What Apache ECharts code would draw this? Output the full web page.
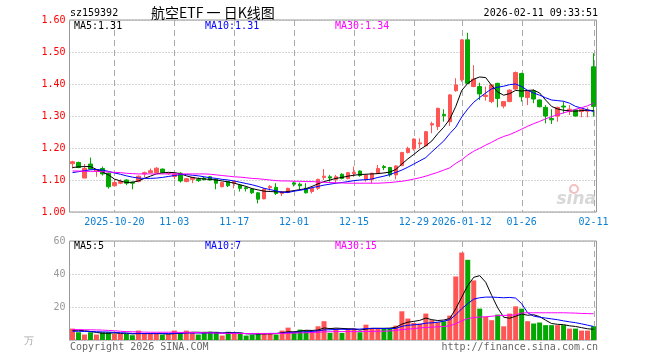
<!DOCTYPE html>
<html><head><meta charset="utf-8">
<script src="https://cdn.jsdelivr.net/npm/echarts@6/dist/echarts.min.js"></script>
<style>html,body{margin:0;padding:0;background:#fff}#c{width:660px;height:360px}</style>
</head><body><div id="c"></div>
<script>
const dates = ['2025-10-09','2025-10-10','2025-10-13','2025-10-14','2025-10-15','2025-10-16','2025-10-17','2025-10-20','2025-10-21','2025-10-22','2025-10-23','2025-10-24','2025-10-27','2025-10-28','2025-10-29','2025-10-30','2025-10-31',
'2025-11-03','2025-11-04','2025-11-05','2025-11-06','2025-11-07','2025-11-10','2025-11-11','2025-11-12','2025-11-13','2025-11-14','2025-11-17','2025-11-18','2025-11-19','2025-11-20','2025-11-21','2025-11-24','2025-11-25','2025-11-26','2025-11-27','2025-11-28',
'2025-12-01','2025-12-02','2025-12-03','2025-12-04','2025-12-05','2025-12-08','2025-12-09','2025-12-10','2025-12-11','2025-12-12','2025-12-15','2025-12-16','2025-12-17','2025-12-18','2025-12-19','2025-12-22','2025-12-23','2025-12-24','2025-12-25','2025-12-26','2025-12-29','2025-12-30','2025-12-31',
'2026-01-05','2026-01-06','2026-01-07','2026-01-08','2026-01-09','2026-01-12','2026-01-13','2026-01-14','2026-01-15','2026-01-16','2026-01-19','2026-01-20','2026-01-21','2026-01-22','2026-01-23','2026-01-26','2026-01-27','2026-01-28','2026-01-29','2026-01-30',
'2026-02-02','2026-02-03','2026-02-04','2026-02-05','2026-02-06','2026-02-09','2026-02-10','2026-02-11'];

const opens = [1.151,1.155,1.106,1.150,1.128,1.136,1.121,1.082,1.090,1.100,1.093,1.095,1.119,1.123,1.123,1.134,1.120,
1.111,1.121,1.095,1.102,1.102,1.106,1.110,1.102,1.079,1.095,1.090,1.084,1.076,1.072,1.060,1.041,1.076,1.077,1.058,1.061,
1.091,1.087,1.074,1.064,1.074,1.108,1.110,1.102,1.118,1.105,1.120,1.128,1.102,1.102,1.121,1.142,1.139,1.116,1.145,1.186,1.197,1.213,1.207,
1.272,1.267,1.305,1.282,1.379,1.413,1.538,1.392,1.392,1.361,1.345,1.402,1.331,1.345,1.384,1.433,1.358,1.378,1.350,1.327,
1.292,1.300,1.331,1.314,1.319,1.314,1.315,1.454];
const closes = [1.157,1.139,1.136,1.134,1.132,1.119,1.079,1.092,1.095,1.090,1.090,1.112,1.123,1.129,1.137,1.123,1.121,
1.119,1.097,1.104,1.108,1.098,1.102,1.100,1.090,1.092,1.082,1.095,1.074,1.073,1.060,1.040,1.072,1.080,1.058,1.063,1.074,
1.087,1.082,1.060,1.074,1.102,1.112,1.106,1.110,1.105,1.123,1.124,1.114,1.116,1.121,1.136,1.139,1.116,1.144,1.186,1.199,1.228,1.216,1.251,
1.276,1.324,1.301,1.366,1.397,1.538,1.402,1.415,1.369,1.365,1.397,1.355,1.345,1.381,1.436,1.360,1.378,1.353,1.329,1.300,
1.288,1.327,1.328,1.321,1.300,1.321,1.319,1.330];
const lows = [1.136,1.137,1.106,1.132,1.110,1.114,1.073,1.079,1.087,1.084,1.071,1.093,1.108,1.121,1.121,1.121,1.116,
1.102,1.092,1.093,1.090,1.094,1.098,1.098,1.071,1.077,1.078,1.074,1.064,1.064,1.056,1.027,1.040,1.067,1.053,1.050,1.059,
1.080,1.070,1.058,1.058,1.069,1.100,1.095,1.090,1.102,1.102,1.110,1.110,1.095,1.090,1.119,1.131,1.110,1.102,1.143,1.183,1.192,1.199,1.205,
1.246,1.256,1.282,1.269,1.376,1.407,1.400,1.390,1.350,1.348,1.340,1.327,1.324,1.343,1.382,1.345,1.334,1.340,1.327,1.277,
1.275,1.282,1.308,1.303,1.298,1.296,1.296,1.298];
const highs = [1.160,1.157,1.150,1.170,1.134,1.142,1.123,1.102,1.102,1.102,1.095,1.114,1.126,1.136,1.140,1.136,1.124,
1.121,1.124,1.106,1.110,1.108,1.110,1.112,1.104,1.094,1.097,1.097,1.086,1.079,1.074,1.062,1.074,1.084,1.090,1.065,1.076,
1.095,1.092,1.090,1.076,1.104,1.134,1.116,1.116,1.121,1.125,1.142,1.130,1.118,1.123,1.147,1.147,1.141,1.146,1.188,1.204,1.230,1.230,1.253,
1.282,1.326,1.321,1.368,1.418,1.540,1.560,1.459,1.404,1.392,1.399,1.404,1.347,1.383,1.439,1.435,1.380,1.383,1.352,1.334,
1.321,1.329,1.345,1.334,1.321,1.323,1.327,1.496];

const volumes = [6.9,4.7,3.3,4.7,3.3,4.7,4.7,3.7,3.7,3.7,2.9,5.7,3.7,3.7,3.7,3.3,3.3,
5.7,4.3,5.7,4.3,3.3,5.0,5.0,5.0,2.7,5.0,4.3,4.3,2.7,3.1,4.3,4.3,4.3,3.3,5.7,7.5,
4.3,6.3,5.7,5.0,8.3,11.4,4.3,6.9,4.3,6.9,6.9,4.7,9.3,6.9,6.9,6.9,6.9,8.7,17.4,13.0,10.3,10.0,16.0,
12.0,10.8,11.4,14.8,38.5,53.0,48.6,36.1,19.0,14.0,12.0,15.4,8.3,16.0,20.4,19.0,11.4,10.0,10.6,9.0,
9.0,9.0,9.0,6.9,6.9,5.7,5.7,8.3];

const ma5 = [1.139,1.141,1.142,1.142,1.133,1.125,1.116,1.103,1.097,1.092,1.093,1.097,1.105,1.112,1.119,1.122,1.124,
1.123,1.120,1.113,1.108,1.105,1.103,1.102,1.100,1.097,1.094,1.090,1.085,1.080,1.073,1.069,1.065,1.064,1.063,1.062,1.064,
1.067,1.070,1.073,1.080,1.088,1.095,1.100,1.105,1.108,1.112,1.115,1.117,1.118,1.119,1.120,1.122,1.125,1.133,1.150,1.166,1.180,1.195,1.207,
1.222,1.245,1.265,1.290,1.330,1.380,1.402,1.415,1.422,1.420,1.395,1.375,1.365,1.370,1.380,1.378,1.380,1.381,1.372,1.350,
1.330,1.322,1.318,1.316,1.315,1.317,1.318,1.317];
const ma10 = [1.123,1.126,1.129,1.132,1.133,1.131,1.127,1.122,1.118,1.113,1.109,1.106,1.105,1.105,1.106,1.108,1.111,
1.114,1.117,1.117,1.115,1.113,1.110,1.107,1.105,1.102,1.100,1.097,1.093,1.089,1.085,1.080,1.074,1.070,1.066,1.062,1.061,
1.065,1.068,1.071,1.076,1.080,1.084,1.087,1.090,1.092,1.095,1.098,1.100,1.101,1.103,1.108,1.112,1.117,1.124,1.131,1.140,1.150,1.160,1.170,
1.188,1.205,1.222,1.245,1.265,1.297,1.322,1.343,1.358,1.372,1.385,1.390,1.393,1.398,1.400,1.392,1.380,1.372,1.365,1.357,
1.350,1.348,1.346,1.340,1.330,1.325,1.319,1.314];
const ma30 = [1.128,1.128,1.127,1.127,1.127,1.126,1.125,1.124,1.123,1.121,1.120,1.119,1.119,1.119,1.119,1.119,1.119,
1.119,1.119,1.119,1.119,1.119,1.119,1.118,1.116,1.114,1.112,1.110,1.109,1.107,1.105,1.104,1.102,1.100,1.098,1.097,1.097,
1.096,1.096,1.095,1.095,1.094,1.093,1.092,1.091,1.091,1.090,1.090,1.090,1.090,1.090,1.090,1.091,1.092,1.094,1.096,1.099,1.103,1.107,1.112,
1.118,1.124,1.131,1.138,1.152,1.163,1.178,1.190,1.199,1.209,1.218,1.228,1.236,1.242,1.250,1.259,1.268,1.276,1.283,1.291,
1.298,1.304,1.310,1.315,1.321,1.326,1.332,1.340];

const vma5 = [5.9,5.9,5.6,5.2,4.6,4.1,4.1,4.3,4.0,4.1,3.7,3.9,3.9,3.9,3.9,3.9,3.5,
3.9,4.1,4.5,4.7,4.7,4.5,4.7,4.5,4.2,4.5,4.4,4.3,3.8,3.7,3.7,3.7,3.7,3.9,4.4,5.0,
5.0,5.4,5.9,5.8,6.0,7.3,6.9,7.2,7.0,6.8,6.7,6.0,6.6,7.0,7.1,7.1,7.2,7.7,9.6,10.8,11.3,11.9,13.3,
12.3,11.8,12.1,13.0,19.0,26.0,33.0,38.0,39.0,35.0,27.0,19.5,13.8,13.2,14.4,15.8,15.0,15.3,14.2,12.0,
10.0,9.5,9.3,8.6,8.2,7.5,6.8,6.5];
const vma10 = [5.3,5.3,5.2,5.1,5.0,4.9,4.8,4.6,4.4,4.2,4.0,4.0,3.9,3.9,3.9,3.9,3.9,
4.0,4.1,4.2,4.2,4.2,4.2,4.3,4.3,4.2,4.2,4.3,4.1,3.9,3.8,3.8,3.9,4.0,4.0,4.1,4.4,
4.6,4.8,5.0,5.2,5.5,6.1,6.2,6.4,6.5,6.4,6.6,6.6,6.9,7.1,7.0,6.9,6.9,7.0,8.3,8.9,9.2,9.5,10.2,
10.4,10.8,11.4,12.3,15.3,19.0,22.0,24.8,25.6,26.0,26.0,25.8,25.6,25.8,25.4,22.0,16.5,14.5,13.8,13.3,
12.8,12.3,11.6,11.0,10.5,9.8,9.0,8.2];
const vma30 = [6.3,6.3,6.2,6.2,6.1,6.0,5.8,5.6,5.3,5.1,5.0,4.9,4.8,4.7,4.7,4.7,4.7,
4.7,4.6,4.6,4.6,4.5,4.4,4.3,4.2,4.1,4.0,4.0,3.9,3.9,3.9,3.9,3.9,3.9,3.9,4.0,4.1,
4.2,4.3,4.4,4.5,4.7,4.9,5.0,5.1,5.1,5.1,5.1,5.1,5.2,5.2,5.3,5.3,5.5,5.8,6.3,6.6,6.9,7.3,7.6,
7.8,8.0,8.2,8.6,9.9,11.6,13.0,13.6,13.9,14.1,14.4,14.8,14.9,15.0,15.2,16.4,16.5,16.5,16.5,16.5,
16.5,16.5,16.5,16.4,16.3,16.1,16.0,15.9];

const tickDates = ['2025-10-20','2025-11-03','2025-11-17','2025-12-01','2025-12-15','2025-12-29','2026-01-12','2026-01-26','2026-02-11'];
const tickLabels = ['2025-10-20','11-03','11-17','12-01','12-15','12-29','2026-01-12','01-26','02-11'];

const UP = '#ff5555', DOWN = '#00a800';
const MONO = 'DejaVu Sans Mono';
const GRIDC = '#aaaaaa';

const candleData = dates.map((d, i) => [opens[i], closes[i], lows[i], highs[i]]);
const volData = volumes.map((v, i) => ({ value: v, itemStyle: { color: closes[i] >= opens[i] ? UP : DOWN } }));
const tickIdx = tickDates.map(d => [dates.indexOf(d), 0]);

function vLineSeries(ax) {
  return {
    type: 'custom', xAxisIndex: ax, yAxisIndex: ax, data: tickIdx, silent: true, z: 1, clip: false,
    encode: { x: 0, y: 1 },
    renderItem: (params, api) => {
      const cs = params.coordSys;
      const x = Math.round(api.coord([api.value(0), api.value(1)])[0]) + 0.5;
      return { type: 'line', shape: { x1: x, y1: cs.y, x2: x, y2: cs.y + cs.height },
        style: { stroke: GRIDC, lineWidth: 1, lineDash: [6, 4] } };
    }
  };
}

const chart = echarts.init(document.getElementById('c'), null, { renderer: 'canvas' });
const txt = (x, y, s, fill, extra) => ({
  type: 'text', x, y, silent: true, z: 100,
  style: Object.assign({ text: s, fill, font: '10px "' + MONO + '"', textVerticalAlign: 'middle' }, extra || {})
});
chart.setOption({
  animation: false,
  backgroundColor: '#ffffff',
  grid: [
    { left: 69.5, width: 527, top: 20, height: 192, show: true, borderColor: '#999', borderWidth: 1, backgroundColor: 'transparent' },
    { left: 69.5, width: 527, top: 241, height: 99, show: true, borderColor: '#999', borderWidth: 1, backgroundColor: 'transparent' }
  ],
  xAxis: [
    { type: 'category', gridIndex: 0, data: dates, boundaryGap: true,
      axisLine: { show: false }, axisTick: { show: false }, splitLine: { show: false },
      axisLabel: { show: true, interval: (i, v) => tickDates.indexOf(v) >= 0, margin: 5,
        formatter: v => tickLabels[tickDates.indexOf(v)], color: '#0a7fd4', fontFamily: MONO, fontSize: 10, hideOverlap: false } },
    { type: 'category', gridIndex: 1, data: dates, boundaryGap: true,
      axisLine: { show: false }, axisTick: { show: false }, splitLine: { show: false }, axisLabel: { show: false } }
  ],
  yAxis: [
    { type: 'value', gridIndex: 0, min: 1.0, max: 1.6, interval: 0.1,
      axisLine: { show: false }, axisTick: { show: false },
      axisLabel: { color: '#ff0000', fontFamily: MONO, fontSize: 10, margin: 4, formatter: v => v.toFixed(2) },
      splitLine: { show: true, lineStyle: { color: GRIDC, type: [1, 2], width: 1 } } },
    { type: 'value', gridIndex: 1, min: 0, max: 60, interval: 20,
      axisLine: { show: false }, axisTick: { show: false },
      axisLabel: { color: '#999999', fontFamily: MONO, fontSize: 10, margin: 4, formatter: v => v === 0 ? '' : String(v) },
      splitLine: { show: true, lineStyle: { color: GRIDC, type: [1, 2], width: 1 } } }
  ],
  series: [
    vLineSeries(0),
    vLineSeries(1),
    { type: 'candlestick', xAxisIndex: 0, yAxisIndex: 0, data: candleData, barWidth: 4,
      itemStyle: { color: UP, color0: DOWN, borderColor: UP, borderColor0: DOWN, borderWidth: 1 }, z: 3 },
    { type: 'line', xAxisIndex: 0, yAxisIndex: 0, data: ma5, symbol: 'none', lineStyle: { color: '#000000', width: 1 }, z: 4 },
    { type: 'line', xAxisIndex: 0, yAxisIndex: 0, data: ma10, symbol: 'none', lineStyle: { color: '#0000ff', width: 1 }, z: 4 },
    { type: 'line', xAxisIndex: 0, yAxisIndex: 0, data: ma30, symbol: 'none', lineStyle: { color: '#ff00ff', width: 1 }, z: 4 },
    { type: 'bar', xAxisIndex: 1, yAxisIndex: 1, data: volData, barWidth: 5, z: 3 },
    { type: 'line', xAxisIndex: 1, yAxisIndex: 1, data: vma5, symbol: 'none', lineStyle: { color: '#000000', width: 1 }, z: 4 },
    { type: 'line', xAxisIndex: 1, yAxisIndex: 1, data: vma10, symbol: 'none', lineStyle: { color: '#0000ff', width: 1 }, z: 4 },
    { type: 'line', xAxisIndex: 1, yAxisIndex: 1, data: vma30, symbol: 'none', lineStyle: { color: '#ff00ff', width: 1 }, z: 4 }
  ],
  graphic: [
    txt(70, 13, 'sz159392', '#000'),
    txt(151, 13, '航空ETF 一 日K线图', '#000', { font: '14px "Noto Sans CJK SC"' }),
    txt(598, 13, '2026-02-11 09:33:51', '#000', { textAlign: 'right' }),
    txt(74, 26, 'MA5:1.31', '#000'),
    txt(205, 26, 'MA10:1.31', '#0000ff'),
    txt(335, 26, 'MA30:1.34', '#ff00ff'),
    txt(74, 246, 'MA5:5', '#000'),
    txt(205, 246, 'MA10:7', '#0000ff'),
    txt(335, 246, 'MA30:15', '#ff00ff'),
    txt(24, 341, '万', '#aaaaaa'),
    txt(70, 347, 'Copyright 2026 SINA.COM', '#666666'),
    txt(598, 347, 'http://finance.sina.com.cn', '#666666', { textAlign: 'right' }),
    { type: 'text', x: 596, y: 200, silent: true, z: 1,
      style: { text: 'sina', fill: '#d8d8d8', font: 'italic bold 17px "DejaVu Sans"', textAlign: 'right', textVerticalAlign: 'middle' } },
    { type: 'circle', shape: { cx: 574, cy: 189, r: 4 }, silent: true, z: 1,
      style: { fill: 'none', stroke: '#f2c0c0', lineWidth: 2 } }
  ]
});
</script></body></html>
